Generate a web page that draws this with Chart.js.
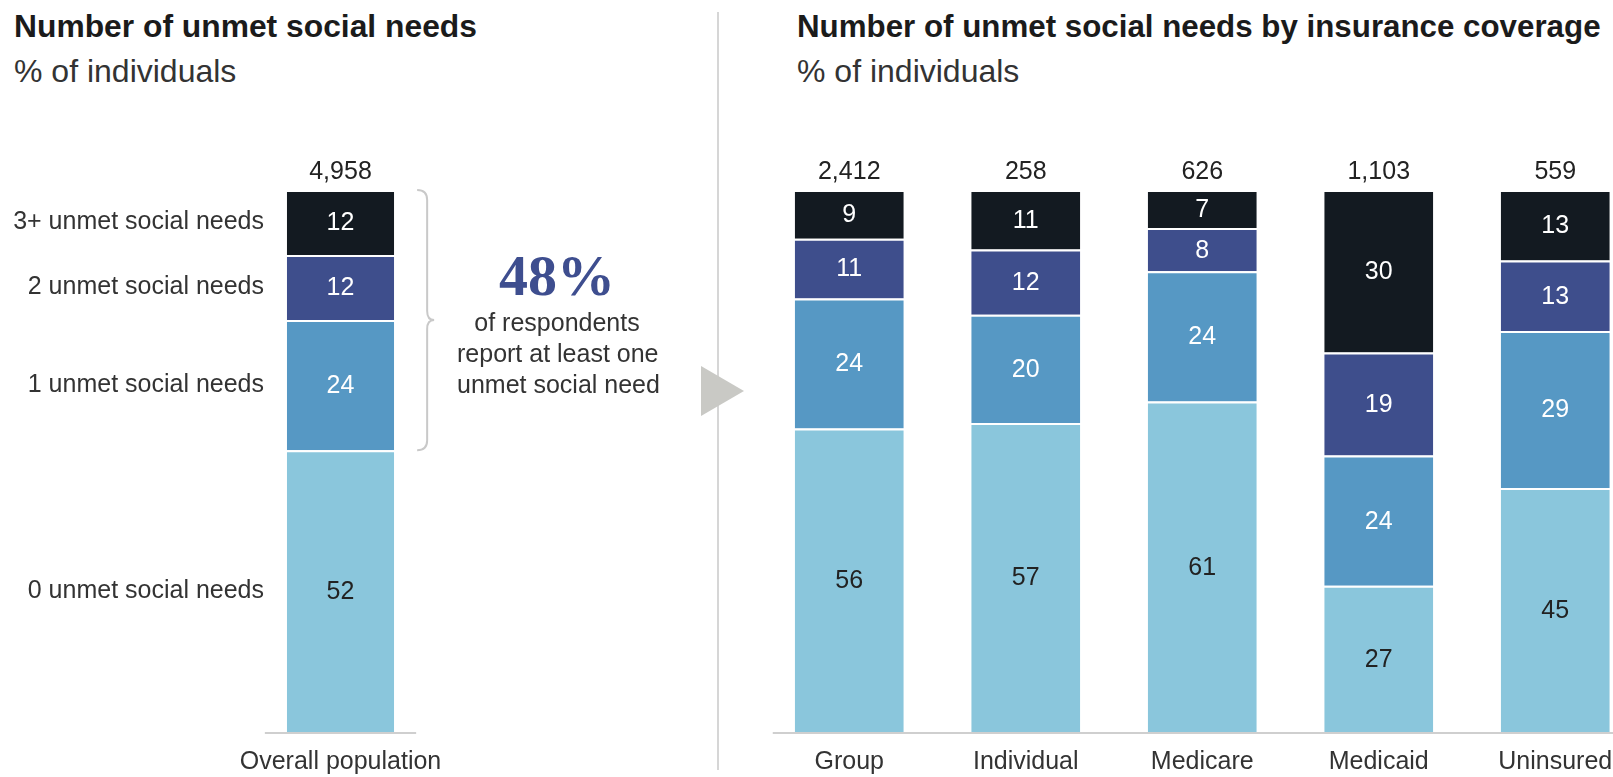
<!DOCTYPE html>
<html>
<head>
<meta charset="utf-8">
<script src="https://cdn.jsdelivr.net/npm/chart.js@4.4.1/dist/chart.umd.min.js"></script>
<style>
  html, body { margin: 0; padding: 0; background: #fff; overflow: hidden; }
  body { width: 1613px; height: 777px; position: relative; font-family: "Liberation Sans", Arial, sans-serif; color: #222; }
  .title { position: absolute; font-weight: bold; font-size: 31.6px; line-height: 31px; color: #1b1b1b; white-space: nowrap; }
  .sub { position: absolute; font-size: 32px; line-height: 32px; color: #333; white-space: nowrap; }
  #divider { position: absolute; left: 717px; top: 12px; width: 2px; height: 758px; background: #d6d6d6; }
  #arrow { position: absolute; left: 701px; top: 366px; width: 0; height: 0;
           border-top: 25px solid transparent; border-bottom: 25px solid transparent; border-left: 43px solid #c9c9c5; }
  .callout { position: absolute; left: 457px; width: 200px; text-align: center; white-space: nowrap; }
  .big { font-family: "Liberation Serif", "DejaVu Serif", serif; font-weight: bold; font-size: 58px; line-height: 58px; color: #3e4e8f; }
  .note { font-size: 25px; line-height: 25px; color: #333; }
  #leftWrap { position: absolute; left: 0; top: 0; width: 560px; height: 777px; }
  #rightWrap { position: absolute; left: 740px; top: 0; width: 905px; height: 777px; }
</style>
</head>
<body>

<div class="title" style="left:14px; top:11px; font-size:31.8px;">Number of unmet social needs</div>
<div class="sub" style="left:14px; top:55px;">% of individuals</div>
<div class="title" style="left:797px; top:11px; font-size:31.3px;">Number of unmet social needs by insurance coverage</div>
<div class="sub" style="left:797px; top:55px;">% of individuals</div>

<div id="divider"></div>
<div id="arrow"></div>

<div id="leftWrap"><canvas id="canvas-left"></canvas></div>
<div id="rightWrap"><canvas id="canvas-right"></canvas></div>

<div class="callout big" style="top:247px;">48%</div>
<div class="callout note" style="top:310px;">of respondents</div>
<div class="callout note" style="top:341px;">report at least one</div>
<div class="callout note" style="top:372px;">unmet social need</div>

<script>
// left panel: overall population
const leftCategories = ['Overall population']
const leftTotals = ['4,958']
const leftNone = [52]
const leftOne = [24]
const leftTwo = [12]
const leftThreePlus = [12]

// row labels, bottom to top
const rowLabels = ['0 unmet social needs', '1 unmet social needs', '2 unmet social needs', '3+ unmet social needs']

// right panel: by insurance coverage
const rightCategories = ['Group', 'Individual', 'Medicare', 'Medicaid', 'Uninsured']
const rightTotals = ['2,412', '258', '626', '1,103', '559']
const rightNone = [56, 57, 61, 27, 45]
const rightOne = [24, 20, 24, 24, 29]
const rightTwo = [11, 12, 8, 19, 13]
const rightThreePlus = [9, 11, 7, 30, 13]

const COLORS = ['#8ac6dc', '#5698c4', '#3e4e8c', '#131a21']
const LABEL_COLORS = ['#222222', '#ffffff', '#ffffff', '#ffffff']
const FONT = '"Liberation Sans", Arial, sans-serif'


function makeDatasets(series, barPct) {
    return series.map((values, i) => ({
        label: rowLabels[i],
        data: values,
        backgroundColor: COLORS[i],
        borderColor: '#ffffff',
        borderWidth: { top: 2, right: 0, bottom: 0, left: 0 },
        borderSkipped: false,
        categoryPercentage: 1,
        barPercentage: barPct
    }))
}

// values inside the segments + totals above + baseline
const barTextPlugin = {
    id: 'barText',
    afterDatasetsDraw(chart, args, opts) {
        const ctx = chart.ctx
        const yScale = chart.scales.y
        ctx.save()
        ctx.font = `25px ${FONT}`
        ctx.textAlign = 'center'
        ctx.textBaseline = 'middle'

        chart.data.datasets.forEach((ds, di) => {
            const meta = chart.getDatasetMeta(di)
            meta.data.forEach((bar, i) => {
                ctx.fillStyle = LABEL_COLORS[di]
                ctx.fillText(String(ds.data[i]), bar.x, (bar.y + bar.base) / 2 + 1)
            })
        })

        const first = chart.getDatasetMeta(0).data
        first.forEach((bar, i) => {
            let sum = 0
            chart.data.datasets.forEach(ds => { sum += ds.data[i] })
            ctx.fillStyle = '#222222'
            ctx.fillText(opts.totals[i], bar.x, yScale.getPixelForValue(sum) - 18)
        })

        // baseline
        const last = first[first.length - 1]
        const y0 = yScale.getPixelForValue(0) + 1
        ctx.strokeStyle = '#cfcfcf'
        ctx.lineWidth = 2
        ctx.beginPath()
        ctx.moveTo(first[0].x - first[0].width / 2 - 22, y0)
        ctx.lineTo(last.x + last.width / 2 + 22, y0)
        ctx.stroke()
        ctx.restore()
    }
}

// curly brace around the segments with at least one need
const bracePlugin = {
    id: 'brace',
    afterDatasetsDraw(chart) {
        const ctx = chart.ctx
        const yScale = chart.scales.y
        const bar = chart.getDatasetMeta(0).data[0]
        const top = yScale.getPixelForValue(100)
        const bottom = yScale.getPixelForValue(leftNone[0])
        const mid = (top + bottom) / 2
        const x0 = bar.x + bar.width / 2 + 23
        const x1 = x0 + 10
        const x2 = x0 + 17
        ctx.save()
        ctx.strokeStyle = '#c9c9c9'
        ctx.lineWidth = 2
        ctx.beginPath()
        ctx.moveTo(x0, top)
        ctx.quadraticCurveTo(x1, top, x1, top + 10)
        ctx.lineTo(x1, mid - 9)
        ctx.quadraticCurveTo(x1, mid, x2, mid)
        ctx.quadraticCurveTo(x1, mid, x1, mid + 9)
        ctx.lineTo(x1, bottom - 10)
        ctx.quadraticCurveTo(x1, bottom, x0, bottom)
        ctx.stroke()
        ctx.restore()
    }
}

function xAxis() {
    return {
        stacked: true,
        grid: { display: false, drawTicks: false },
        border: { display: false },
        ticks: { color: '#333333', font: { family: FONT, size: 25 }, padding: 15, maxRotation: 0 },
        afterFit: (scale) => { scale.height = 45 }
    }
}

function drawLeft() {
    const series = [leftNone, leftOne, leftTwo, leftThreePlus]
    // midpoint of each segment, used to place the row labels
    const mids = []
    let acc = 0
    series.forEach(s => { mids.push(acc + s[0] / 2); acc += s[0] })

    new Chart(document.getElementById('canvas-left'), {
        type: 'bar',
        data: { labels: leftCategories, datasets: makeDatasets(series, 108 / 154) },
        options: {
            responsive: true,
            maintainAspectRatio: false,
            animation: false,
            layout: { padding: { top: 190, right: 143, left: 0, bottom: 0 } },
            plugins: { legend: { display: false }, tooltip: { enabled: false }, barText: { totals: leftTotals } },
            scales: {
                x: xAxis(),
                y: {
                    stacked: true,
                    min: 0,
                    max: 100,
                    grid: { display: false, drawTicks: false },
                    border: { display: false },
                    afterBuildTicks: (scale) => { scale.ticks = mids.map(v => ({ value: v })) },
                    ticks: {
                        color: '#333333',
                        font: { family: FONT, size: 25 },
                        padding: 0,
                        callback: (value, index) => rowLabels[index]
                    },
                    afterFit: (scale) => { scale.width = 264 }
                }
            }
        },
        plugins: [barTextPlugin, bracePlugin]
    })
}

function drawRight() {
    const series = [rightNone, rightOne, rightTwo, rightThreePlus]
    new Chart(document.getElementById('canvas-right'), {
        type: 'bar',
        data: { labels: rightCategories, datasets: makeDatasets(series, 109 / 176.5) },
        options: {
            responsive: true,
            maintainAspectRatio: false,
            animation: false,
            layout: { padding: { top: 190, right: 1.5, left: 21, bottom: 0 } },
            plugins: { legend: { display: false }, tooltip: { enabled: false }, barText: { totals: rightTotals } },
            scales: {
                x: xAxis(),
                y: { stacked: true, min: 0, max: 100, display: false }
            }
        },
        plugins: [barTextPlugin]
    })
}

drawLeft()
drawRight()
</script>
</body>
</html>
